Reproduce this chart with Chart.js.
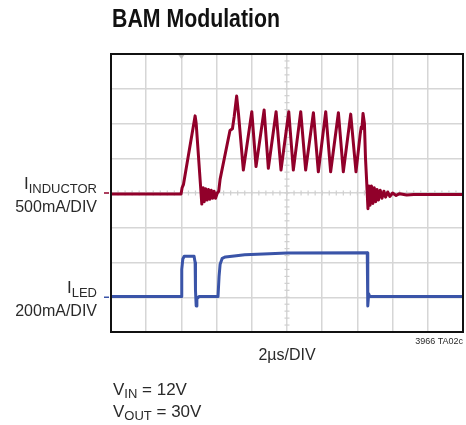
<!DOCTYPE html>
<html>
<head>
<meta charset="utf-8">
<script src="https://cdn.jsdelivr.net/npm/chart.js@4"></script>
<style>
html,body{margin:0;padding:0;background:#fff;}
#wrap{width:466px;height:425px;position:relative;}
</style>
</head>
<body>
<div id="wrap"><canvas id="c" width="466" height="425"></canvas></div>
<script>
// time axis: microseconds (2 µs per division)
const inductorTime = [0, 3.98, 4.04, 4.12, 4.78, 4.84, 5.16, 5.24, 5.30, 5.38, 5.46, 5.54, 5.62, 5.70, 5.78, 5.86, 5.94, 6.04, 6.12, 6.20, 6.76, 6.90, 7.00, 7.14, 7.24, 7.52, 8.00, 8.24, 8.70, 8.94, 9.38, 9.66, 10.10, 10.36, 10.78, 11.06, 11.50, 11.78, 12.20, 12.48, 12.92, 13.20, 13.62, 13.92, 14.16, 14.22, 14.26, 14.32, 14.40, 14.46, 14.52, 14.60, 14.66, 14.72, 14.80, 14.88, 14.96, 15.04, 15.12, 15.20, 15.30, 15.40, 15.50, 15.60, 15.72, 15.84, 16.00, 16.20, 16.40, 16.80, 17.20, 20];
// inductor current, mA (500 mA/DIV)
const inductorCurrent = [-15, -15, 75, 125, 1110, 1000, -160, 75, -125, 60, -100, 50, -90, 40, -75, 25, -75, 0, 25, 200, 900, 925, 1100, 1395, 1150, 330, 1170, 380, 1195, 355, 1170, 330, 1170, 330, 1170, 330, 1155, 305, 1170, 305, 1155, 305, 1135, 305, 850, 950, 925, 1145, 1000, 500, 200, -225, 100, -175, 100, -150, 75, -125, 50, -100, 40, -75, 25, -60, 15, -50, 0, -35, -10, -30, -20, -20];

const ledTime = [0, 3.98, 4.02, 4.08, 4.16, 4.72, 4.78, 4.80, 4.84, 4.88, 5.00, 6.08, 6.14, 6.20, 6.32, 6.50, 7.00, 7.60, 9.00, 10.00, 14.56, 14.58, 14.60, 14.64, 14.70, 20];
// LED current, mA (200 mA/DIV)
const ledCurrent = [4, 4, 160, 220, 236, 236, 200, 40, -50, -10, 4, 4, 120, 190, 224, 232, 238, 244, 250, 254, 256, 40, -50, 20, 4, 4];

const divLabels = ["2µs/DIV", "3966 TA02c"];

const INDUCTOR_ZERO_DIV = 4, INDUCTOR_MA_PER_DIV = 500;
const LED_ZERO_DIV = 1, LED_MA_PER_DIV = 200;

const RED = 'rgb(145,0,42)';
const BLUE = 'rgb(58,84,168)';
const FONT = '"Liberation Sans", Arial, sans-serif';

const inductorData = inductorTime.map((t, i) => ({x: t, y: INDUCTOR_ZERO_DIV + inductorCurrent[i] / INDUCTOR_MA_PER_DIV}));
const ledData = ledTime.map((t, i) => ({x: t, y: LED_ZERO_DIV + ledCurrent[i] / LED_MA_PER_DIV}));

function subText(ctx, parts, xRight, y) {
  let w = 0;
  parts.forEach(p => { ctx.font = p.size + 'px ' + FONT; p.w = ctx.measureText(p.t).width; w += p.w; });
  let x = xRight - w;
  parts.forEach(p => { ctx.font = p.size + 'px ' + FONT; ctx.fillText(p.t, x, y + (p.dy || 0)); x += p.w; });
}
function leftText(ctx, parts, x, y) {
  parts.forEach(p => { ctx.font = p.size + 'px ' + FONT; ctx.fillText(p.t, x, y + (p.dy || 0)); x += ctx.measureText(p.t).width; });
}

const decor = {
  id: 'decor',
  beforeDatasetsDraw(chart) {
    const {ctx, scales: {x, y}} = chart;
    ctx.save();
    ctx.strokeStyle = '#cfcfcf';
    ctx.lineWidth = 1.2;
    const cx = x.getPixelForValue(10), cy = y.getPixelForValue(4);
    for (let v = 0; v <= 20.001; v += 0.4) {
      const px = x.getPixelForValue(v);
      ctx.beginPath(); ctx.moveTo(px, cy - 2.5); ctx.lineTo(px, cy + 2.5); ctx.stroke();
    }
    for (let v = 0; v <= 8.001; v += 0.2) {
      const py = y.getPixelForValue(v);
      ctx.beginPath(); ctx.moveTo(cx - 2.5, py); ctx.lineTo(cx + 2.5, py); ctx.stroke();
    }
    ctx.restore();
  },
  afterDraw(chart) {
    const {ctx, chartArea: a, scales: {x, y}} = chart;
    ctx.save();
    ctx.strokeStyle = '#111';
    ctx.lineWidth = 2;
    ctx.strokeRect(a.left, a.top, a.right - a.left, a.bottom - a.top);
    const tx = x.getPixelForValue(4);
    ctx.fillStyle = '#bdbdbd';
    ctx.beginPath(); ctx.moveTo(tx - 3, a.top + 1); ctx.lineTo(tx + 3, a.top + 1); ctx.lineTo(tx, a.top + 5); ctx.closePath(); ctx.fill();
    const ry = y.getPixelForValue(INDUCTOR_ZERO_DIV), by = y.getPixelForValue(LED_ZERO_DIV);
    ctx.lineWidth = 1.5;
    ctx.strokeStyle = RED; ctx.beginPath(); ctx.moveTo(a.left - 7, ry); ctx.lineTo(a.left - 2, ry); ctx.stroke();
    ctx.strokeStyle = BLUE; ctx.beginPath(); ctx.moveTo(a.left - 7, by); ctx.lineTo(a.left - 2, by); ctx.stroke();

    // title (condensed bold)
    ctx.fillStyle = '#111';
    ctx.textBaseline = 'alphabetic';
    ctx.font = 'bold 25px ' + FONT;
    const tw = ctx.measureText('BAM Modulation').width;
    ctx.save();
    ctx.translate(112, 27);
    ctx.scale(168 / tw, 1);
    ctx.fillText('BAM Modulation', 0, 0);
    ctx.restore();

    ctx.fillStyle = '#2a2a2a';
    subText(ctx, [{t: 'I', size: 17, dy: -4}, {t: 'INDUCTOR', size: 13}], 97, ry);
    subText(ctx, [{t: '500mA/DIV', size: 16}], 97, ry + 19);
    subText(ctx, [{t: 'I', size: 17, dy: -4}, {t: 'LED', size: 13}], 97, by);
    subText(ctx, [{t: '200mA/DIV', size: 16}], 97, by + 19);
    ctx.font = '16px ' + FONT;
    ctx.textAlign = 'center';
    ctx.fillText(divLabels[0], (a.left + a.right) / 2, 360);
    ctx.textAlign = 'right';
    ctx.font = '9px ' + FONT;
    ctx.fillText(divLabels[1], a.right, 344);
    ctx.textAlign = 'left';
    leftText(ctx, [{t: 'V', size: 17}, {t: 'IN', size: 13, dy: 3}, {t: ' = 12V', size: 17}], 113, 395);
    leftText(ctx, [{t: 'V', size: 17}, {t: 'OUT', size: 13, dy: 3}, {t: ' = 30V', size: 17}], 113, 417);
    ctx.restore();
  }
};

new Chart(document.getElementById('c'), {
  type: 'line',
  data: {
    datasets: [
      {label: 'I_INDUCTOR', data: inductorData, borderColor: RED, borderWidth: 3, pointRadius: 0, tension: 0, borderJoinStyle: 'round'},
      {label: 'I_LED', data: ledData, borderColor: BLUE, borderWidth: 3, pointRadius: 0, tension: 0, borderJoinStyle: 'round'}
    ]
  },
  options: {
    responsive: false,
    animation: false,
    events: [],
    layout: {padding: {left: 111, right: 3, top: 54, bottom: 93}},
    plugins: {legend: {display: false}, tooltip: {enabled: false}, title: {display: false}},
    scales: {
      x: {type: 'linear', min: 0, max: 20,
          ticks: {display: false, stepSize: 2},
          grid: {color: '#d6d6d6', lineWidth: 1.5, drawTicks: false},
          border: {display: false}},
      y: {type: 'linear', min: 0, max: 8,
          ticks: {display: false, stepSize: 1},
          grid: {color: '#d6d6d6', lineWidth: 1.5, drawTicks: false},
          border: {display: false}}
    }
  },
  plugins: [decor]
});
</script>
</body>
</html>
